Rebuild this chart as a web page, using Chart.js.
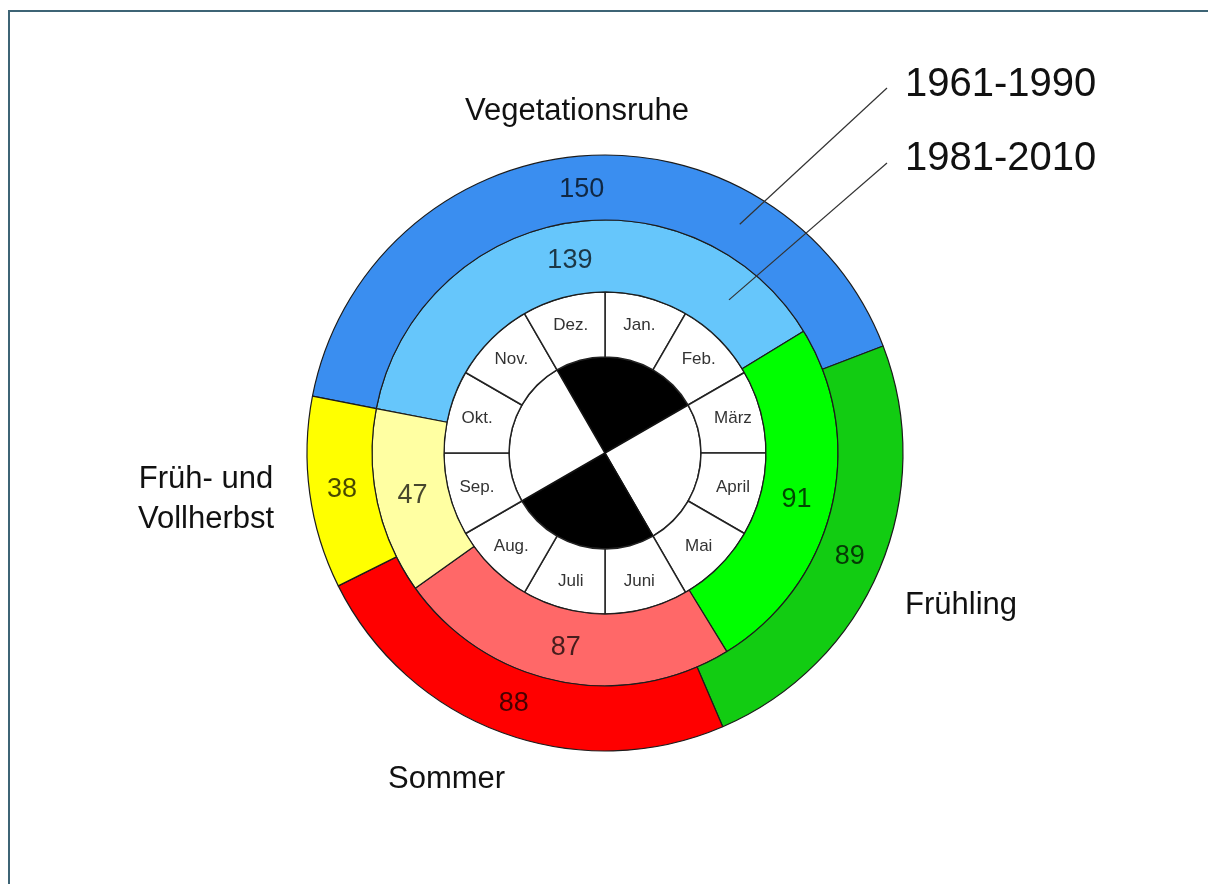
<!DOCTYPE html>
<html>
<head>
<meta charset="utf-8">
<script src="https://cdn.jsdelivr.net/npm/chart.js@4.4.0/dist/chart.umd.min.js"></script>
<style>
  html, body { margin: 0; padding: 0; background: #fff; }
  #wrap { position: relative; width: 1208px; height: 884px; overflow: hidden; }
  #frame { position: absolute; left: 8px; top: 10px; right: -4px; bottom: -4px;
           border-left: 2px solid #3d6475; border-top: 2px solid #3d6475; }
  #chart { position: absolute; left: 0; top: 0; }
</style>
</head>
<body>
<div id="wrap">
  <div id="frame"></div>
  <canvas id="chart" width="1208" height="884"></canvas>
</div>
<script>
// phase lengths in days, both reference periods
const phases = ['Vegetationsruhe', 'Frühling', 'Sommer', 'Früh- und Vollherbst'];
const days1961 = [150, 89, 88, 38];
const days1981 = [139, 91, 87, 47];
const colors1961 = ['#3a8ef0', '#12cc12', '#ff0000', '#ffff00'];
const colors1981 = ['#66c6fb', '#00ff00', '#ff6868', '#ffffa2'];
const periods = ['1961-1990', '1981-2010'];

// month ring and the black/white quarters in the middle
const months = ['Jan.', 'Feb.', 'März', 'April', 'Mai', 'Juni', 'Juli', 'Aug.', 'Sep.', 'Okt.', 'Nov.', 'Dez.'];
const monthShare = [1, 1, 1, 1, 1, 1, 1, 1, 1, 1, 1, 1];
const quarters = [1, 1, 1, 1];
const quarterColors = ['#000000', '#ffffff', '#000000', '#ffffff'];

const FONT = '"Liberation Sans", Arial, sans-serif';

const ringLabels = {
  id: 'ringLabels',
  afterDatasetsDraw(chart) {
    const ctx = chart.ctx;
    ctx.save();
    ctx.textAlign = 'center';
    ctx.textBaseline = 'middle';

    // day counts inside both phase rings
    [0, 1].forEach((di) => {
      const ds = chart.data.datasets[di];
      chart.getDatasetMeta(di).data.forEach((arc, i) => {
        const p = arc.getProps(['x', 'y', 'startAngle', 'endAngle', 'innerRadius', 'outerRadius'], true);
        const a = (p.startAngle + p.endAngle) / 2;
        const r = (p.innerRadius + p.outerRadius) / 2;
        ctx.font = '27px ' + FONT;
        ctx.fillStyle = 'rgba(0,0,0,0.72)';
        ctx.fillText(String(ds.data[i]), p.x + r * Math.cos(a), p.y + r * Math.sin(a) + 1);
      });
    });

    // month names
    chart.getDatasetMeta(2).data.forEach((arc, i) => {
      const p = arc.getProps(['x', 'y', 'startAngle', 'endAngle', 'innerRadius', 'outerRadius'], true);
      const a = (p.startAngle + p.endAngle) / 2;
      const r = (p.innerRadius + p.outerRadius) / 2 + 4;
      ctx.font = '17px ' + FONT;
      ctx.fillStyle = '#333';
      ctx.fillText(months[i], p.x + r * Math.cos(a), p.y + r * Math.sin(a));
    });

    // leader lines to the period labels
    ctx.strokeStyle = '#333';
    ctx.lineWidth = 1.2;
    const leaders = [{ di: 0, deg: 30.5, tx: 887, ty: 88 }, { di: 1, deg: 39, tx: 887, ty: 163 }];
    leaders.forEach((l) => {
      const arc = chart.getDatasetMeta(l.di).data[0];
      const p = arc.getProps(['x', 'y', 'innerRadius', 'outerRadius'], true);
      const r = (p.innerRadius + p.outerRadius) / 2;
      const a = (l.deg - 90) * Math.PI / 180;
      ctx.beginPath();
      ctx.moveTo(p.x + r * Math.cos(a), p.y + r * Math.sin(a));
      ctx.lineTo(l.tx, l.ty);
      ctx.stroke();
    });

    ctx.fillStyle = '#111';
    ctx.textAlign = 'left';
    ctx.textBaseline = 'alphabetic';
    ctx.font = '40px ' + FONT;
    ctx.fillText(periods[0], 905, 96);
    ctx.fillText(periods[1], 905, 170);

    // phase names around the clock
    ctx.font = '31px ' + FONT;
    ctx.textAlign = 'center';
    ctx.fillText(phases[0], 577, 120);
    ctx.fillText('Früh- und', 206, 488);
    ctx.fillText('Vollherbst', 206, 528);
    ctx.textAlign = 'left';
    ctx.fillText(phases[1], 905, 614);
    ctx.fillText(phases[2], 388, 788);
    ctx.restore();
  }
};

new Chart(document.getElementById('chart'), {
  type: 'doughnut',
  data: {
    labels: phases,
    datasets: [
      { data: days1961, backgroundColor: colors1961, borderColor: '#1c1c1c', borderWidth: 1.2, rotation: -79, weight: 65 },
      { data: days1981, backgroundColor: colors1981, borderColor: '#1c1c1c', borderWidth: 1.2, rotation: -79, weight: 72 },
      { data: monthShare, backgroundColor: '#ffffff', borderColor: '#222', borderWidth: 1.5, rotation: 0, weight: 65 },
      { data: quarters, backgroundColor: quarterColors, borderColor: '#111', borderWidth: 1.5, rotation: -30, weight: 96 }
    ]
  },
  options: {
    responsive: false,
    animation: false,
    radius: 298,
    cutout: 0,
    layout: { padding: { left: 2, top: 22 } },
    plugins: { legend: { display: false }, tooltip: { enabled: false } }
  },
  plugins: [ringLabels]
});
</script>
</body>
</html>
